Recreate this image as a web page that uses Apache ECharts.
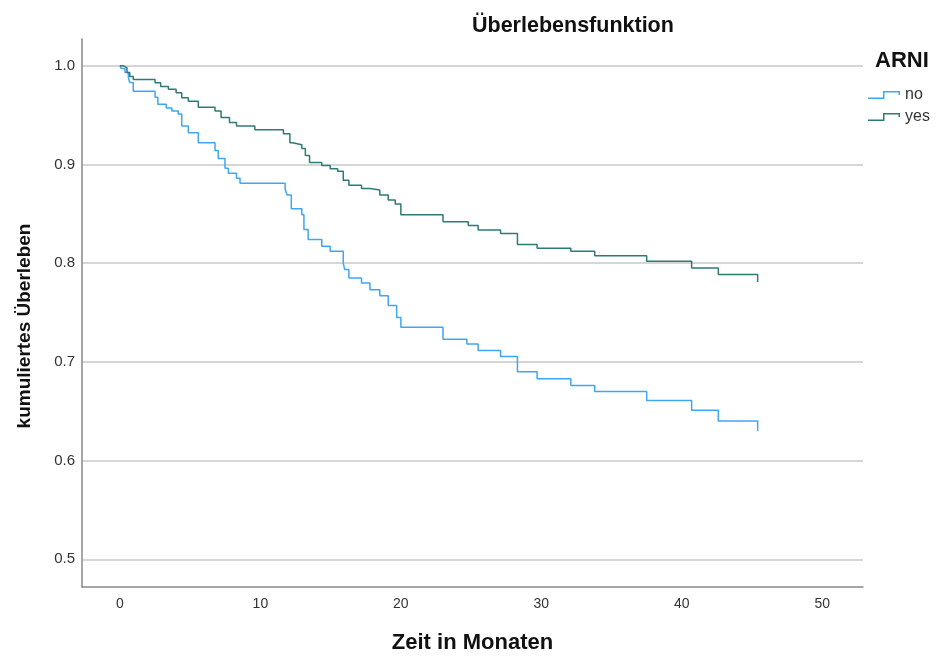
<!DOCTYPE html>
<html>
<head>
<meta charset="utf-8">
<script src="https://cdn.jsdelivr.net/npm/echarts@6/dist/echarts.min.js"></script>
<style>
  html, body { margin: 0; padding: 0; background: #fff; }
  #chart { width: 936px; height: 659px; }
</style>
</head>
<body>
<div id="chart"></div>
<script>
  // Kaplan-Meier step points [Monate, kumuliertes Überleben]
  var groupNames = ['no', 'yes'];

  var survivalNo = [
    [0, 1.0], [0.1, 0.997], [0.36, 0.993], [0.6, 0.988], [0.7, 0.983], [0.95, 0.974],
    [2.5, 0.968], [2.7, 0.961], [3.3, 0.957], [3.7, 0.954], [4.15, 0.951], [4.4, 0.939],
    [4.87, 0.932], [5.58, 0.922], [6.77, 0.914], [7.0, 0.906], [7.48, 0.896], [7.72, 0.891],
    [8.3, 0.886], [8.55, 0.881], [11.76, 0.875], [11.9, 0.869], [12.2, 0.855], [12.95, 0.849],
    [13.1, 0.834], [13.4, 0.824], [14.37, 0.817], [14.97, 0.812], [15.9, 0.800], [16.0, 0.7935],
    [16.3, 0.785], [17.2, 0.780], [17.8, 0.773], [18.5, 0.767], [19.1, 0.757], [19.7, 0.745],
    [20.0, 0.735], [23.0, 0.723], [24.7, 0.718], [25.5, 0.7115], [27.1, 0.7055], [28.3, 0.690],
    [29.7, 0.683], [32.1, 0.676], [33.8, 0.670], [37.5, 0.661], [40.7, 0.651], [42.6, 0.640],
    [45.4, 0.630]
  ];

  var survivalYes = [
    [0, 1.0], [0.2, 0.998], [0.5, 0.993], [0.7, 0.989], [0.95, 0.986], [2.5, 0.9826],
    [2.9, 0.979], [3.45, 0.976], [4.0, 0.9726], [4.4, 0.9676], [4.87, 0.964], [5.58, 0.958],
    [6.77, 0.954], [7.2, 0.9475], [7.8, 0.9425], [8.3, 0.939], [9.6, 0.935], [11.64, 0.931],
    [12.1, 0.922], [12.3, 0.920], [12.95, 0.916], [13.2, 0.909], [13.5, 0.902], [14.37, 0.899],
    [14.97, 0.8956], [15.5, 0.893], [15.9, 0.884], [16.3, 0.879], [17.2, 0.8755], [17.8, 0.874],
    [18.5, 0.869], [19.1, 0.864], [19.6, 0.860], [20.0, 0.849], [23.0, 0.842], [24.8, 0.838],
    [25.5, 0.8336], [27.1, 0.830], [28.3, 0.819], [29.7, 0.815], [32.1, 0.812], [33.8, 0.8076],
    [37.5, 0.802], [40.7, 0.795], [42.6, 0.7885], [45.4, 0.781]
  ];

  var xTicks = [0, 10, 20, 30, 40, 50];
  var yTicks = [0.5, 0.6, 0.7, 0.8, 0.9, 1.0];

  var FONT = '"Liberation Sans", Arial, sans-serif';
  var STEP_ICON = 'path://M0,6.5 H15 V0 H32 V4 H30.5 V1.5 H16.5 V8 H0 Z';

  var chart = echarts.init(document.getElementById('chart'));

  chart.setOption({
    animation: false,
    backgroundColor: '#fff',
    textStyle: { fontFamily: FONT },
    title: [
      {
        text: 'Überlebensfunktion',
        left: 467, top: 10,
        textStyle: { fontFamily: FONT, fontSize: 21.5, fontWeight: 'bold', color: '#111' }
      },
      {
        text: 'ARNI',
        left: 870, top: 45,
        textStyle: { fontFamily: FONT, fontSize: 22, fontWeight: 'bold', color: '#111' }
      }
    ],
    legend: {
      orient: 'vertical',
      left: 863, top: 82,
      itemWidth: 32, itemHeight: 8,
      itemGap: 6,
      icon: STEP_ICON,
      textStyle: { fontFamily: FONT, fontSize: 16, color: '#333', padding: [3, 0, 0, 0] },
      data: groupNames
    },
    grid: { left: 82, right: 73, top: 39, bottom: 67 },
    xAxis: {
      type: 'value',
      min: -2.7, max: 52.9,
      name: 'Zeit in Monaten',
      nameLocation: 'middle',
      nameGap: 45,
      nameTextStyle: { fontFamily: FONT, fontSize: 22, fontWeight: 'bold', color: '#111' },
      axisLine: { show: true, onZero: false, lineStyle: { color: '#888', width: 1.5 } },
      axisTick: { show: false, customValues: xTicks },
      splitLine: { show: false },
      axisLabel: { margin: 10, fontSize: 14, color: '#333', customValues: xTicks }
    },
    yAxis: {
      type: 'value',
      min: 0.472, max: 1.027,
      name: 'kumuliertes Überleben',
      nameLocation: 'middle',
      nameGap: 48,
      nameRotate: 90,
      nameTextStyle: {
        fontFamily: FONT, fontSize: 19, fontWeight: 'bold', color: '#111',
        padding: [0, 26, 0, 0]
      },
      axisLine: { show: true, onZero: false, lineStyle: { color: '#888', width: 1.5 } },
      axisTick: { show: false, customValues: yTicks },
      splitLine: { show: true, lineStyle: { color: '#c8c8c8', width: 1.5 } },
      axisLabel: {
        margin: 7, fontSize: 15, color: '#333', customValues: yTicks,
        formatter: function (v) { return v.toFixed(1); }
      }
    },
    series: [
      {
        name: groupNames[0],
        type: 'line',
        step: 'end',
        data: survivalNo,
        symbol: 'none',
        color: '#3ea6f2',
        lineStyle: { width: 1.5, color: '#3ea6f2' }
      },
      {
        name: groupNames[1],
        type: 'line',
        step: 'end',
        data: survivalYes,
        symbol: 'none',
        color: '#2e7a76',
        lineStyle: { width: 1.5, color: '#2e7a76' }
      }
    ]
  });
</script>
</body>
</html>
